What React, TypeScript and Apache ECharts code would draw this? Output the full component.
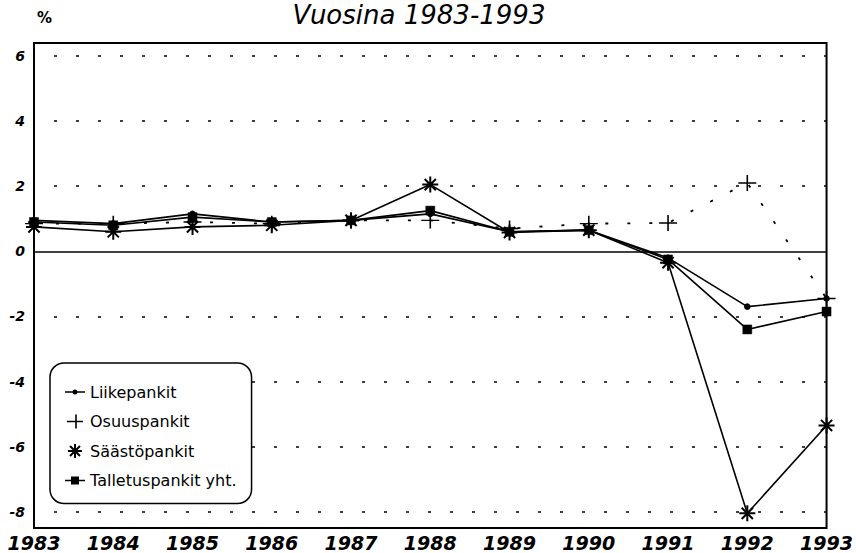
import React, { useEffect, useRef } from "react";
import * as echarts from "echarts";

const years = ["1983", "1984", "1985", "1986", "1987", "1988", "1989", "1990", "1991", "1992", "1993"];
const liikepankit = [0.95, 0.85, 1.15, 0.9, 0.95, 1.15, 0.6, 0.65, -0.2, -1.7, -1.45];
const osuuspankit = [0.85, 0.85, 0.9, 0.85, 0.95, 0.95, 0.7, 0.85, 0.87, 2.1, -1.45];
const saastopankit = [0.75, 0.6, 0.75, 0.8, 0.95, 2.05, 0.58, 0.65, -0.35, -8.05, -5.35];
const talletuspankit = [0.9, 0.8, 1.05, 0.9, 0.95, 1.25, 0.6, 0.65, -0.25, -2.4, -1.85];
const yTicks = [-8, -6, -4, -2, 0, 2, 4, 6];
const seriesNames = ["Liikepankit", "Osuuspankit", "Säästöpankit", "Talletuspankit yht."];
const titleText = "Vuosina 1983-1993";
const unitText = "%";

const PLUS = "path://M0,5L10,5M5,0L5,10";
const STAR = "path://M0,5L10,5M5,0L5,10M1.5,1.5L8.5,8.5M8.5,1.5L1.5,8.5";

// legend icons
const ICON_LINE_DOT =
  "path://M0,2.2H7.6V3.8H0Z M12.4,2.2H20V3.8H12.4Z M7.5,3 A2.5,2.5 0 1,0 12.5,3 A2.5,2.5 0 1,0 7.5,3Z";
const ICON_PLUS = "path://M0,7L16,7M9,0L9,14";
const ICON_STAR = "path://M0,7L14,7M7,0L7,14M2,2L12,12M12,2L2,12";
const ICON_LINE_SQUARE = "path://M0,3.2H6V4.8H0Z M14,3.2H20V4.8H14Z M6,0H14V8H6Z";

export default function App() {
  const ref = useRef<HTMLDivElement>(null);
  useEffect(() => {
    if (!ref.current) return;
    const chart = echarts.init(ref.current, null, { renderer: "svg" });
    const black = "#000";
    const itemStyle = { color: black, borderColor: black, borderWidth: 1.5 };
    const font = "DejaVu Sans";
    const gridLines = yTicks.map((v) =>
      v === 0
        ? { yAxis: v, lineStyle: { type: "solid", color: black, width: 1.6 } }
        : { yAxis: v, lineStyle: { type: [3, 19], color: black, width: 1.6, dashOffset: -20 } }
    );
    const legendIcons = [ICON_LINE_DOT, ICON_PLUS, ICON_STAR, ICON_LINE_SQUARE];
    const legendStroke = [0, 1.6, 2, 0];
    chart.setOption({
      animation: false,
      backgroundColor: "#fff",
      graphic: [
        {
          type: "text",
          x: 419,
          y: 15,
          style: {
            text: titleText,
            font: `italic 26px "${font}"`,
            fill: black,
            align: "center",
            verticalAlign: "middle",
          },
        },
        {
          type: "text",
          x: 37,
          y: 10,
          style: { text: unitText, font: `bold 15px "${font}"`, fill: black, align: "left", verticalAlign: "top" },
        },
      ],
      grid: { left: 34, right: 27, top: 43, bottom: 25, show: true, borderColor: black, borderWidth: 2, backgroundColor: "transparent" },
      legend: {
        orient: "vertical",
        left: 50,
        top: 363,
        data: seriesNames.map((name, i) => ({
          name,
          icon: legendIcons[i],
          itemStyle: { color: black, borderColor: black, borderWidth: legendStroke[i] },
        })),
        itemWidth: 20,
        itemHeight: 14,
        itemGap: 13.5,
        symbolKeepAspect: true,
        padding: [21, 15, 15, 15],
        borderColor: black,
        borderWidth: 1.5,
        borderRadius: 14,
        backgroundColor: "#fff",
        textStyle: { fontFamily: font, fontSize: 16, color: black },
        inactiveColor: black,
      },
      xAxis: {
        type: "category",
        data: years,
        boundaryGap: false,
        axisLine: { show: false, onZero: false },
        axisTick: { show: false },
        splitLine: { show: false },
        axisLabel: {
          color: black,
          fontFamily: font,
          fontSize: 19,
          fontWeight: "bold",
          fontStyle: "italic",
          margin: 5,
          showMinLabel: true,
          showMaxLabel: true,
          interval: 0,
        },
      },
      yAxis: {
        type: "value",
        min: -8.5,
        max: 6.4,
        axisLine: { show: false },
        axisTick: { show: false },
        splitLine: { show: false },
        axisLabel: {
          customValues: yTicks,
          color: black,
          fontFamily: font,
          fontSize: 14,
          fontWeight: "bold",
          fontStyle: "italic",
          margin: 9,
          formatter: (v: number) => String(v),
        },
      },
      series: [
        {
          name: seriesNames[0],
          type: "line",
          data: liikepankit,
          symbol: "circle",
          symbolSize: 5,
          showAllSymbol: true,
          lineStyle: { color: black, width: 1.6 },
          itemStyle,
          z: 3,
          markLine: {
            silent: true,
            symbol: "none",
            label: { show: false },
            data: gridLines,
            z: 1,
          },
        },
        {
          name: seriesNames[1],
          type: "line",
          data: osuuspankit,
          symbol: PLUS,
          symbolSize: [18, 16],
          showAllSymbol: true,
          lineStyle: { color: black, width: 1.8, type: [3, 19] },
          itemStyle,
          z: 4,
        },
        {
          name: seriesNames[2],
          type: "line",
          data: saastopankit,
          symbol: STAR,
          symbolSize: 16,
          showAllSymbol: true,
          lineStyle: { color: black, width: 1.6 },
          itemStyle: { color: black, borderColor: black, borderWidth: 2 },
          z: 5,
        },
        {
          name: seriesNames[3],
          type: "line",
          data: talletuspankit,
          symbol: "rect",
          symbolSize: 9,
          showAllSymbol: true,
          lineStyle: { color: black, width: 1.6 },
          itemStyle: { color: black, borderColor: black, borderWidth: 0.5 },
          z: 6,
        },
      ],
    });
    return () => chart.dispose();
  }, []);
  return <div ref={ref} style={{ position: "fixed", left: 0, top: 0, width: 856, height: 553, background: "#fff" }} />;
}
